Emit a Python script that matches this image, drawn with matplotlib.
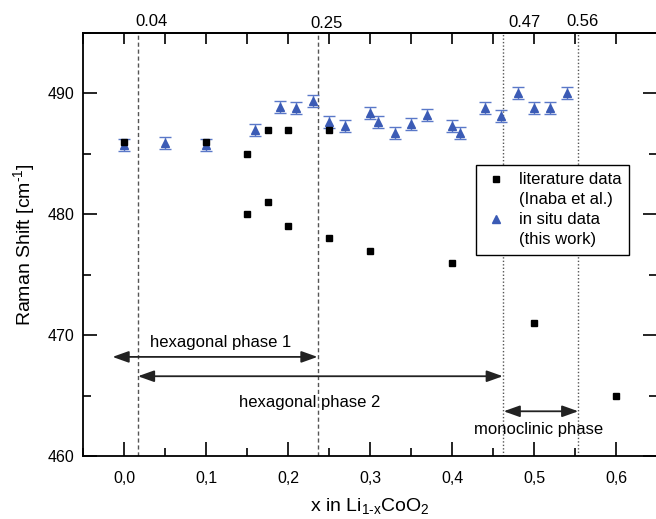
import matplotlib
matplotlib.use("Agg")
import matplotlib.pyplot as plt
from matplotlib.ticker import MultipleLocator, FuncFormatter
from matplotlib.lines import Line2D
import matplotlib.transforms as mtransforms

plt.rcParams['font.family'] = ['Liberation Sans', 'DejaVu Sans']
plt.rcParams['mathtext.fontset'] = 'custom'
plt.rcParams['mathtext.rm'] = 'Liberation Sans'
plt.rcParams['mathtext.it'] = 'Liberation Sans'

# literature data (Inaba et al.)
lit_x = [0.0, 0.1, 0.15, 0.15, 0.175, 0.175, 0.2, 0.2, 0.25, 0.25, 0.3, 0.4, 0.5, 0.6]
lit_y = [486, 486, 485, 480, 487, 481, 487, 479, 487, 478, 477, 476, 471, 465]

# in situ data (this work)
insitu_x = [0.0, 0.05, 0.1, 0.16, 0.19, 0.21, 0.23, 0.25, 0.27, 0.30, 0.31,
            0.33, 0.35, 0.37, 0.40, 0.41, 0.44, 0.46, 0.48, 0.50, 0.52, 0.54]
insitu_y = [485.7, 485.9, 485.7, 487.0, 488.9, 488.8, 489.4, 487.6, 487.3, 488.4, 487.6,
            486.7, 487.5, 488.2, 487.3, 486.7, 488.8, 488.1, 490.0, 488.8, 488.8, 490.0]
insitu_err = [0.5, 0.5, 0.5, 0.5, 0.5, 0.5, 0.5, 0.5, 0.5, 0.5, 0.5,
              0.5, 0.5, 0.5, 0.5, 0.5, 0.5, 0.5, 0.5, 0.5, 0.5, 0.5]

# phase boundaries
bound_x = [0.017, 0.236, 0.462, 0.554]
bound_style = ['--', '--', ':', ':']
bound_labels = ['0.04', '0.25', '0.47', '0.56']

# phase arrows: (start, end, y)
phases = ['hexagonal phase 1', 'hexagonal phase 2', 'monoclinic phase']
phase_start = [-0.014, 0.017, 0.463]
phase_end = [0.236, 0.462, 0.554]
phase_arrow_y = [468.2, 466.6, 463.7]
phase_text_x = [0.118, 0.226, 0.505]
phase_text_y = [469.4, 464.4, 462.2]

W, H = 656, 519
fig = plt.figure(figsize=(W / 100, H / 100), dpi=100)
ax = fig.add_axes([83 / W, 1 - 456 / H, (657 - 83) / W, (456 - 33) / H])

blue = '#3b5bb5'
ax.errorbar(insitu_x, insitu_y, yerr=insitu_err, fmt='^', color=blue, ecolor='#5a78c8',
            markersize=6, capsize=4, elinewidth=1.0, capthick=1.0, zorder=3)
ax.plot(lit_x, lit_y, 's', color='black', markersize=5, zorder=4)

for bx, ls in zip(bound_x, bound_style):
    ax.axvline(bx, color='#555555', linestyle=ls, linewidth=1.0, zorder=1,
               dashes=(3, 2) if ls == '--' else (1, 1.5))

for s, e, y in zip(phase_start, phase_end, phase_arrow_y):
    ax.annotate('', xy=(e, y), xytext=(s, y),
                arrowprops=dict(arrowstyle='<|-|>,head_length=0.7,head_width=0.25',
                                color='#222222', lw=1.3, shrinkA=0, shrinkB=0,
                                mutation_scale=14))
for t, tx, ty in zip(phases, phase_text_x, phase_text_y):
    ax.text(tx, ty, t, ha='center', va='center', fontsize=12)

# top labels for boundaries
trans = mtransforms.blended_transform_factory(ax.transData, fig.transFigure)
top_label_x = [0.034, 0.2476, 0.488, 0.559]
top_label_y = [21, 24, 22.5, 21]
for lab, lx, ly in zip(bound_labels, top_label_x, top_label_y):
    fig.text(lx, 1 - ly / H, lab, transform=trans, ha='center', va='center', fontsize=12)

ax.set_xlim(-0.05, 0.65)
ax.set_ylim(460, 495)
ax.xaxis.set_major_locator(MultipleLocator(0.1))
ax.xaxis.set_minor_locator(MultipleLocator(0.05))
ax.yaxis.set_major_locator(MultipleLocator(10))
ax.yaxis.set_minor_locator(MultipleLocator(5))
ax.xaxis.set_major_formatter(FuncFormatter(lambda v, p: f'{v:.1f}'.replace('.', ',').replace('-0,0', '0,0')))
ax.tick_params(axis='both', which='both', direction='in', labelsize=11.5, width=1.2)
ax.tick_params(axis='x', which='major', length=10, pad=11, top=False)
ax.tick_params(axis='x', which='minor', length=6, top=False)
ax.tick_params(axis='y', which='major', length=10, right=True, pad=6)
ax.tick_params(axis='y', which='minor', length=6, right=True)

secx = ax.secondary_xaxis('top')
secx.xaxis.set_major_locator(MultipleLocator(0.05))
secx.tick_params(direction='in', length=8, width=1.2, labeltop=False)
secx.spines['top'].set_linewidth(1.3)

for sp in ax.spines.values():
    sp.set_linewidth(1.3)

hy = '\u2010'
ax.set_xlabel(r'x in Li$_{\mathregular{1' + hy + r'x}}$CoO$_{\mathregular{2}}$', fontsize=14, labelpad=7)
ax.set_ylabel(r'Raman Shift [cm$^{\mathregular{' + hy + r'1}}$]', fontsize=14, labelpad=8)

handles = [Line2D([], [], marker='s', color='black', linestyle='none', markersize=5),
           Line2D([], [], linestyle='none'),
           Line2D([], [], marker='^', color=blue, linestyle='none', markersize=6),
           Line2D([], [], linestyle='none')]
labels = ['literature data', '(Inaba et al.)', 'in situ data', '(this work)']
leg = ax.legend(handles, labels, loc='upper left', bbox_to_anchor=(0.685, 0.688),
                fontsize=12, frameon=True, fancybox=False, framealpha=1,
                edgecolor='black', labelspacing=0.3, handlelength=1.5,
                handletextpad=0.6, borderpad=0.45, borderaxespad=0)
leg.get_frame().set_linewidth(1.0)

fig.savefig('out.png', dpi=100)
